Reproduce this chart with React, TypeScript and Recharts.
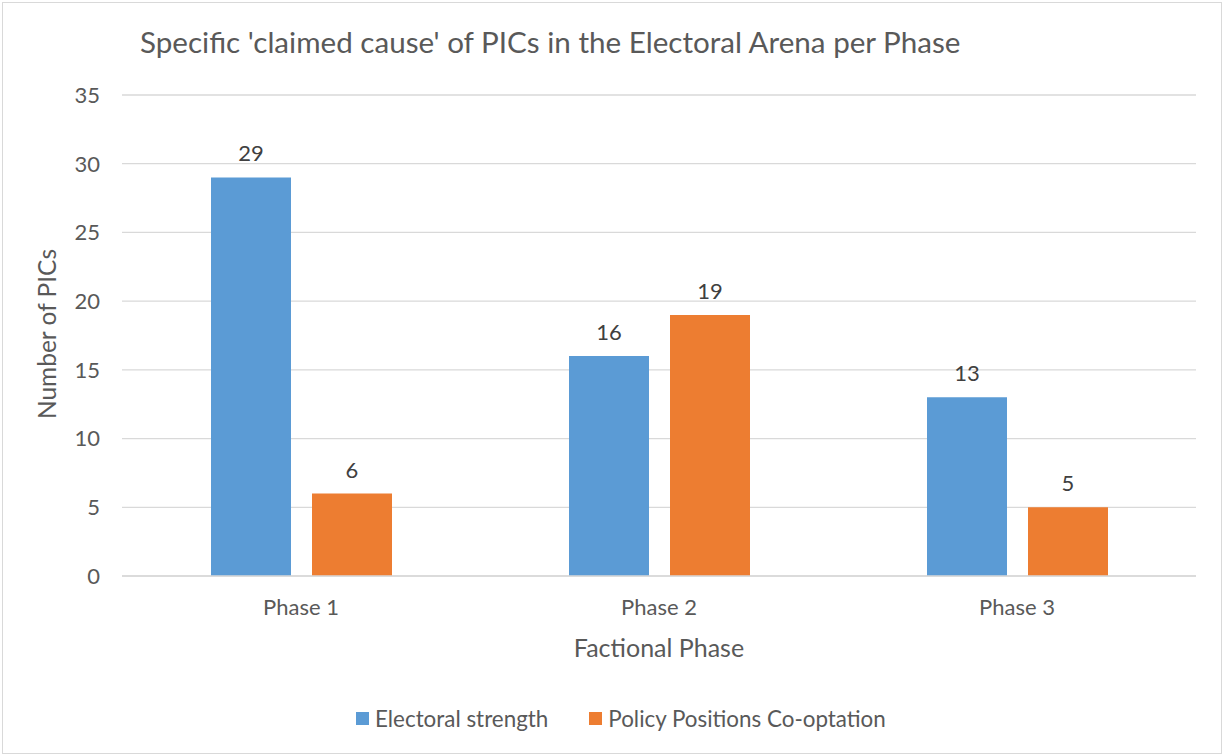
import { BarChart, Bar, XAxis, YAxis, CartesianGrid, Legend, LabelList } from 'recharts';

const phases = ['Phase 1', 'Phase 2', 'Phase 3'];
const electoralStrength = [29, 16, 13];
const policyCooptation = [6, 19, 5];
const yTicks = [0, 5, 10, 15, 20, 25, 30, 35];

const seriesNames = ['Electoral strength', 'Policy Positions Co-optation'];
const seriesColors = ['#5b9bd5', '#ed7d31'];

const data = phases.map((phase, i) => ({
  phase,
  electoral: electoralStrength[i],
  policy: policyCooptation[i],
}));

const FONT = 'Lato, "Open Sans", sans-serif';
const TEXT = '#595959';

function ChartLegend(props: any) {
  const payload = props.payload || [];
  return (
    <div style={{ display: 'flex', alignItems: 'center', fontFamily: FONT, fontSize: 22.4, color: TEXT }}>
      {payload.map((entry: any, i: number) => (
        <div key={i} style={{ display: 'flex', alignItems: 'center', marginRight: 41 }}>
          <span style={{ display: 'inline-block', width: 13, height: 13, background: entry.color, marginRight: 6 }} />
          <span>{entry.value}</span>
        </div>
      ))}
    </div>
  );
}

export default function App() {
  return (
    <div style={{ position: 'relative', width: 1225, height: 756, background: '#fff', fontFamily: FONT }}>
      <style>{`body{margin:0}`}</style>
      <div
        style={{
          position: 'absolute', left: 2, top: 2, width: 1220, height: 752,
          border: '1px solid #d9d9d9', boxSizing: 'border-box',
        }}
      />
      <div
        style={{
          position: 'absolute', left: 140, top: 27, fontSize: 29.6, lineHeight: '29.6px',
          color: TEXT, whiteSpace: 'nowrap',
        }}
      >
        Specific 'claimed cause' of PICs in the Electoral Arena per Phase
      </div>
      <div
        style={{
          position: 'absolute', left: 46, top: 334, fontSize: 24.5, color: TEXT, whiteSpace: 'nowrap',
          transform: 'translate(-50%, -50%) rotate(-90deg)',
        }}
      >
        Number of PICs
      </div>
      <div
        style={{
          position: 'absolute', left: 659, top: 647, fontSize: 25, color: TEXT, whiteSpace: 'nowrap',
          transform: 'translate(-50%, -50%)',
        }}
      >
        Factional Phase
      </div>
      <div style={{ position: 'absolute', left: 0, top: 0 }}>
        <BarChart
          width={1225}
          height={756}
          data={data}
          margin={{ top: 95, right: 29, bottom: 140, left: 62 }}
          barSize={80}
          barGap={21}
        >
          <CartesianGrid vertical={false} stroke="#d9d9d9" strokeWidth={1.3} />
          <XAxis
            dataKey="phase"
            height={40}
            tickSize={0}
            tickMargin={23}
            axisLine={{ stroke: '#d9d9d9', strokeWidth: 1.3 }}
            tickLine={false}
            tick={{ fontSize: 22, fill: TEXT, fontFamily: FONT }}
          />
          <YAxis
            width={60}
            domain={[0, 35]}
            ticks={yTicks}
            tickSize={0}
            tickMargin={22}
            axisLine={false}
            tickLine={false}
            tick={{ fontSize: 22, fill: TEXT, fontFamily: FONT }}
          />
          <Legend
            verticalAlign="middle"
            align="center"
            layout="horizontal"
            wrapperStyle={{ top: 705, left: 356 }}
            content={<ChartLegend />}
          />
          <Bar dataKey="electoral" name={seriesNames[0]} fill={seriesColors[0]} isAnimationActive={false}>
            <LabelList dataKey="electoral" position="top" offset={16} fill="#404040" fontSize={22} fontFamily={FONT} />
          </Bar>
          <Bar dataKey="policy" name={seriesNames[1]} fill={seriesColors[1]} isAnimationActive={false}>
            <LabelList dataKey="policy" position="top" offset={16} fill="#404040" fontSize={22} fontFamily={FONT} />
          </Bar>
        </BarChart>
      </div>
    </div>
  );
}
